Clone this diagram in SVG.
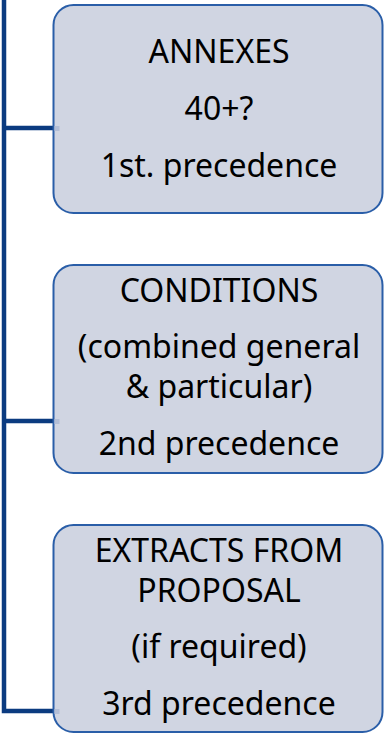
<svg xmlns="http://www.w3.org/2000/svg" width="384" height="733" viewBox="0 0 384 733">
  <style>
    .box { fill: #d0d5e2; stroke: #2a5ea8; stroke-width: 2; }
    .wire { fill: none; stroke: #0b3b80; stroke-width: 4.5; stroke-linejoin: miter; }
    .stub { fill: #b3bed6; }
    .label { font-family: "Noto Sans", "Open Sans", "Liberation Sans", sans-serif; font-size: 32px; fill: #000; text-anchor: middle; }
  </style>

  <!-- bracket connector linking the three items -->
  <g id="connectors">
    <path class="wire" d="M4,0 V711 H53" />
    <path class="wire" d="M4,128 H53" />
    <path class="wire" d="M4,421 H53" />
  </g>

  <g id="annexes">
    <rect class="box" x="53.5" y="5" width="329" height="208" rx="20" ry="20" />
    <rect class="stub" x="54.5" y="126" width="5" height="5" />
    <text class="label" x="219" y="63">ANNEXES</text>
    <text class="label" x="219" y="120">40+?</text>
    <text class="label" x="219" y="177">1st. precedence</text>
  </g>

  <g id="conditions">
    <rect class="box" x="53.5" y="265" width="329" height="208" rx="20" ry="20" />
    <rect class="stub" x="54.5" y="419" width="5" height="5" />
    <text class="label" x="219" y="302">CONDITIONS</text>
    <text class="label" x="219" y="358">(combined general</text>
    <text class="label" x="219" y="398">&amp; particular)</text>
    <text class="label" x="219" y="455">2nd precedence</text>
  </g>

  <g id="extracts">
    <rect class="box" x="53.5" y="525" width="329" height="207" rx="20" ry="20" />
    <rect class="stub" x="54.5" y="709" width="5" height="5" />
    <text class="label" x="219" y="562">EXTRACTS FROM</text>
    <text class="label" x="219" y="602">PROPOSAL</text>
    <text class="label" x="219" y="658">(if required)</text>
    <text class="label" x="219" y="715">3rd precedence</text>
  </g>
</svg>
